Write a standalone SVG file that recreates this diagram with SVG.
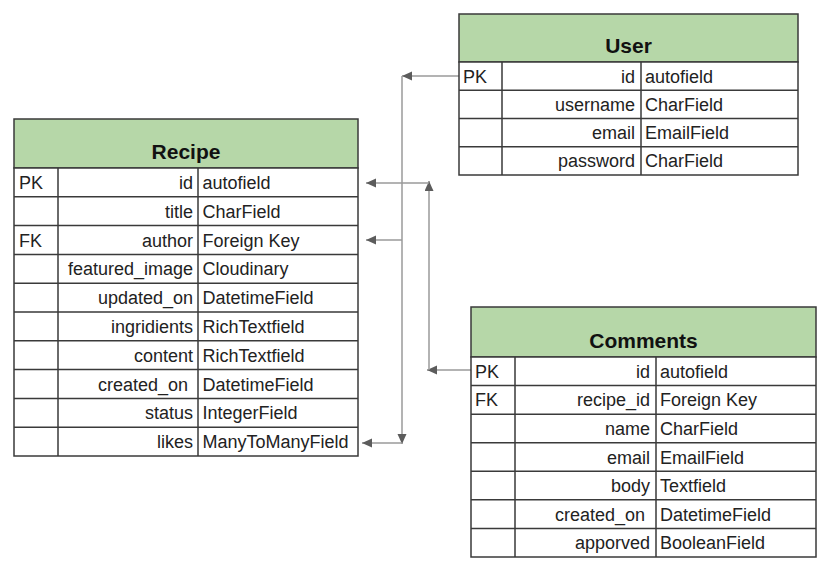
<svg xmlns="http://www.w3.org/2000/svg" width="830" height="573" viewBox="0 0 830 573">
<style>
.hdr{fill:#b6d7a8;stroke:#3a3a3a;stroke-width:1.5}
.cell{fill:#ffffff;stroke:#3a3a3a;stroke-width:1.5}
.grid{stroke:#3a3a3a;stroke-width:1.5;fill:none}
.title{font-family:"Liberation Sans",Arial,sans-serif;font-size:21px;font-weight:bold;fill:#111;text-anchor:middle}
.t{font-family:"Liberation Sans",Arial,sans-serif;font-size:18px;fill:#222}
.r{text-anchor:end}
.conn{stroke:#9a9a9a;stroke-width:1.5;fill:none}
</style>
<defs>
<marker id="ah" markerUnits="userSpaceOnUse" markerWidth="11" markerHeight="10" refX="10" refY="4.5" orient="auto">
<path d="M0,0 L10,4.5 L0,9 z" fill="#5c5c5c"/>
</marker>
</defs>

<g id="connectors">
<line class="conn" x1="459" y1="76" x2="402" y2="76" marker-end="url(#ah)"/>
<line class="conn" x1="402" y1="76" x2="402" y2="444" marker-end="url(#ah)"/>
<line class="conn" x1="402" y1="240" x2="366" y2="240" marker-end="url(#ah)"/>
<line class="conn" x1="402" y1="443" x2="362" y2="443" marker-end="url(#ah)"/>
<line class="conn" x1="471" y1="370" x2="427" y2="370" marker-end="url(#ah)"/>
<line class="conn" x1="429" y1="370" x2="429" y2="181" marker-end="url(#ah)"/>
<line class="conn" x1="429" y1="183" x2="366" y2="183" marker-end="url(#ah)"/>
</g>

<g id="user">
<rect class="hdr" x="459" y="14" width="339" height="48"/>
<rect class="cell" x="459" y="62" width="339" height="113"/>
<path class="grid" d="M459,90.25 H798 M459,118.5 H798 M459,146.75 H798 M502,62 V175 M641,62 V175"/>
<text class="title" x="628.5" y="53">User</text>
<text class="t" x="463" y="82.5">PK</text>
<text class="t r" x="635" y="82.5">id</text>
<text class="t" x="645" y="82.5">autofield</text>
<text class="t r" x="635" y="110.8">username</text>
<text class="t" x="645" y="110.8">CharField</text>
<text class="t r" x="635" y="139">email</text>
<text class="t" x="645" y="139">EmailField</text>
<text class="t r" x="635" y="167.3">password</text>
<text class="t" x="645" y="167.3">CharField</text>
</g>

<g id="recipe">
<rect class="hdr" x="14" y="119" width="344" height="49"/>
<rect class="cell" x="14" y="168" width="344" height="288"/>
<path class="grid" d="M14,196.8 H358 M14,225.6 H358 M14,254.4 H358 M14,283.2 H358 M14,312 H358 M14,340.8 H358 M14,369.6 H358 M14,398.4 H358 M14,427.2 H358 M58,168 V456 M198,168 V456"/>
<text class="title" x="186" y="159">Recipe</text>
<text class="t" x="19" y="189">PK</text>
<text class="t r" x="193" y="189">id</text>
<text class="t" x="202.5" y="189">autofield</text>
<text class="t r" x="193" y="217.8">title</text>
<text class="t" x="202.5" y="217.8">CharField</text>
<text class="t" x="19" y="246.6">FK</text>
<text class="t r" x="193" y="246.6">author</text>
<text class="t" x="202.5" y="246.6">Foreign Key</text>
<text class="t r" x="193" y="275.4">featured_image</text>
<text class="t" x="202.5" y="275.4">Cloudinary</text>
<text class="t r" x="193" y="304.2">updated_on</text>
<text class="t" x="202.5" y="304.2">DatetimeField</text>
<text class="t r" x="193" y="333">ingridients</text>
<text class="t" x="202.5" y="333">RichTextfield</text>
<text class="t r" x="193" y="361.8">content</text>
<text class="t" x="202.5" y="361.8">RichTextfield</text>
<text class="t r" x="188" y="390.6">created_on</text>
<text class="t" x="202.5" y="390.6">DatetimeField</text>
<text class="t r" x="193" y="419.4">status</text>
<text class="t" x="202.5" y="419.4">IntegerField</text>
<text class="t r" x="193" y="448.2">likes</text>
<text class="t" x="202.5" y="448.2">ManyToManyField</text>
</g>

<g id="comments">
<rect class="hdr" x="471" y="307" width="345" height="50"/>
<rect class="cell" x="471" y="357" width="345" height="200"/>
<path class="grid" d="M471,385.57 H816 M471,414.14 H816 M471,442.71 H816 M471,471.29 H816 M471,499.86 H816 M471,528.43 H816 M515,357 V557 M656,357 V557"/>
<text class="title" x="643.5" y="348">Comments</text>
<text class="t" x="475" y="377.8">PK</text>
<text class="t r" x="650" y="377.8">id</text>
<text class="t" x="660" y="377.8">autofield</text>
<text class="t" x="475" y="406.4">FK</text>
<text class="t r" x="650" y="406.4">recipe_id</text>
<text class="t" x="660" y="406.4">Foreign Key</text>
<text class="t r" x="650" y="434.9">name</text>
<text class="t" x="660" y="434.9">CharField</text>
<text class="t r" x="650" y="463.5">email</text>
<text class="t" x="660" y="463.5">EmailField</text>
<text class="t r" x="650" y="492.1">body</text>
<text class="t" x="660" y="492.1">Textfield</text>
<text class="t r" x="645" y="520.6">created_on</text>
<text class="t" x="660" y="520.6">DatetimeField</text>
<text class="t r" x="650" y="549.2">apporved</text>
<text class="t" x="660" y="549.2">BooleanField</text>
</g>
</svg>
